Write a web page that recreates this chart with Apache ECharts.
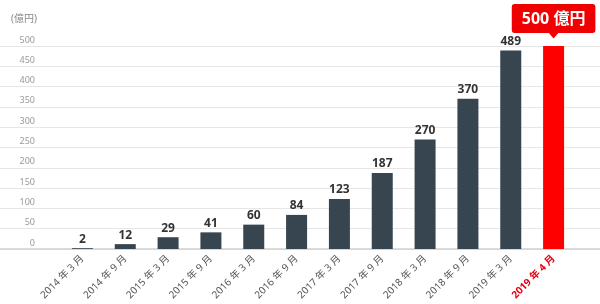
<!DOCTYPE html>
<html><head><meta charset="utf-8">
<script src="https://cdn.jsdelivr.net/npm/echarts@6/dist/echarts.min.js"></script>
<style>html,body{margin:0;padding:0;background:#fff}#c{width:600px;height:304px}</style>
</head><body><div id="c"></div>
<script>
const categories = ['2014 年 3 月','2014 年 9 月','2015 年 3 月','2015 年 9 月','2016 年 3 月','2016 年 9 月','2017 年 3 月','2017 年 9 月','2018 年 3 月','2018 年 9 月','2019 年 3 月','2019 年 4 月'];
const values = [2, 12, 29, 41, 60, 84, 123, 187, 270, 370, 489, 500];
const highlightIndex = 11;
const calloutText = '500 億円';
const unitName = '(億円)';
const yMin = 0, yMax = 500, yStep = 50;

const dark = '#36454f', red = '#ff0000';
const chart = echarts.init(document.getElementById('c'));
const font = '"Noto Sans", "Noto Sans CJK JP", sans-serif';
chart.setOption({
  animation: false,
  grid: [
    {left: 0, right: 0, top: 46, bottom: 55},
    {left: 61, right: 25, top: 46, bottom: 55}
  ],
  xAxis: [
    {type: 'value', gridIndex: 0, min: 0, max: 1, axisLabel: {show: false}, axisTick: {show: false}, splitLine: {show: false},
     axisLine: {show: true, lineStyle: {color: '#d0d0d0', width: 1.5}}},
    {type: 'category', gridIndex: 1, data: categories.map((c, i) => i === highlightIndex ? {value: c, textStyle: {color: '#e60012', fontWeight: 'bold'}} : c),
     axisLine: {show: false}, axisTick: {show: false},
     axisLabel: {rotate: 45, fontSize: 10, color: '#555', fontFamily: font, margin: 8}}
  ],
  yAxis: [
    {type: 'value', gridIndex: 0, min: yMin, max: yMax, interval: yStep,
     name: unitName, nameLocation: 'end', nameGap: 22,
     nameTextStyle: {color: '#888', fontSize: 10, fontFamily: font, align: 'left', padding: [0, 0, 0, 11]},
     axisLine: {show: false}, axisTick: {show: false},
     axisLabel: {inside: true, align: 'right', margin: 35, verticalAlign: 'bottom', lineHeight: 12, fontSize: 9, color: '#999', fontFamily: font},
     splitLine: {lineStyle: {color: '#e6e6e6', width: 1}}},
    {type: 'value', gridIndex: 1, min: yMin, max: yMax, interval: yStep, show: false, splitLine: {show: false}}
  ],
  series: [{
    type: 'bar', xAxisIndex: 1, yAxisIndex: 1, barWidth: 21,
    data: values.map((v, i) => i === highlightIndex ? {
      value: v, itemStyle: {color: red},
      label: {show: true, position: 'top', distance: 13, formatter: calloutText, color: '#fff', fontSize: 16, fontWeight: 'bold',
              backgroundColor: '#f00000', padding: [7, 10, 6, 10], borderRadius: 3, fontFamily: font}
    } : {value: v}),
    itemStyle: {color: dark},
    label: {show: true, position: 'top', distance: 3, color: '#333', fontSize: 12, fontWeight: 'bold', fontFamily: font},
    markPoint: {
      silent: true,
      data: [{coord: [categories[highlightIndex], values[highlightIndex]], symbol: 'triangle', symbolRotate: 180,
              symbolSize: [12, 7], symbolOffset: [0, -11], itemStyle: {color: '#f00000'}, label: {show: false}}]
    }
  }]
});
</script></body></html>
